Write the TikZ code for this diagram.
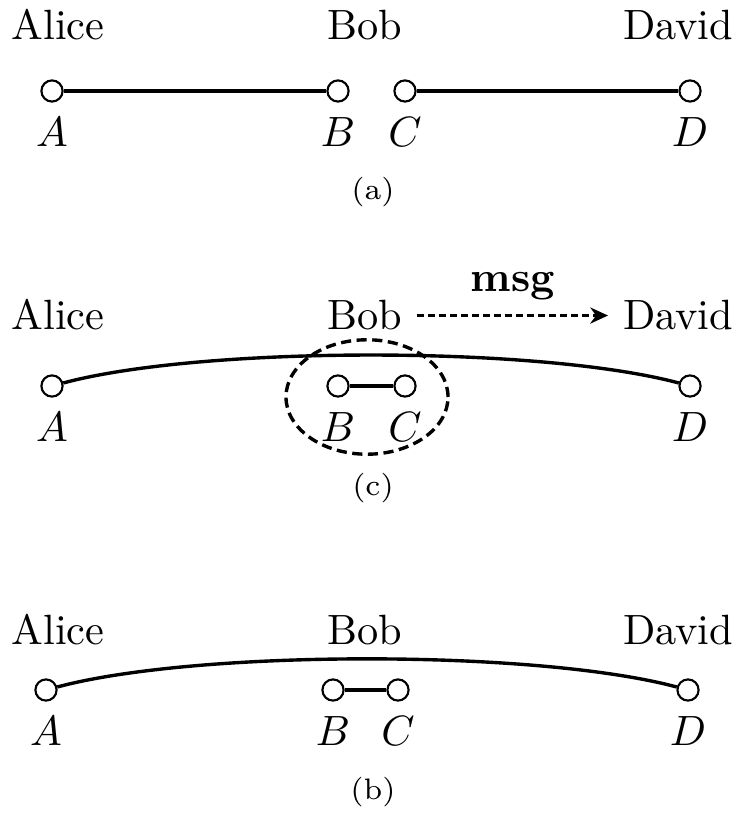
\documentclass[tikz,border=0pt]{standalone}
\usetikzlibrary{positioning, arrows.meta, shapes.geometric}

\begin{document}
\begin{tikzpicture}[
    x=0.0083cm, y=-0.0083cm,
    party/.style={
        circle,
        draw,
        line width=0.5pt,
        fill=white,
        minimum size=5pt,
        inner sep=0pt
    },
    who/.style={
        anchor=base
    },
    link/.style={
        thick
    },
    swaplink/.style={
        thick,
        bend left=15,
        looseness=0.6
    },
    msgarrow/.style={
        -{Stealth[length=4.2pt, width=3.8pt]},
        line width=0.9pt,
        dash pattern=on 1.6pt off 1pt
    },
    bobset/.style={
        ellipse,
        draw,
        thick,
        dash pattern=on 2.4pt off 1.3pt,
        minimum width=1.345cm,
        minimum height=0.95cm
    },
    caption/.style={
        anchor=base,
        font=\scriptsize
    }
]
    \useasboundingbox (0,0) rectangle (741,813);

    % (a) two separate links
    \node[who] (aAlice) at (58,40) {Alice};
    \node[who] (aBob) at (365,40) {Bob};
    \node[who] (aDavid) at (678,40) {David};

    \node[party, label=below:$A$] (aA) at (52,91) {};
    \node[party, label=below:$B$] (aB) at (338,91) {};
    \node[party, label=below:$C$] (aC) at (405,91) {};
    \node[party, label=below:$D$] (aD) at (690,91) {};

    \draw[link] (aA) -- (aB);
    \draw[link] (aC) -- (aD);

    \node[caption] (capA) at (373,200) {(a)};

    % (c) Bob swaps and sends msg to David
    \node[who] (cAlice) at (58,330) {Alice};
    \node[who] (cBob) at (365,330) {Bob};
    \node[who] (cDavid) at (678,330) {David};

    \node[party, label=below:$A$] (cA) at (52,386) {};
    \node[party, label=below:$B$] (cB) at (338,386) {};
    \node[party, label=below:$C$] (cC) at (405,386) {};
    \node[party, label=below:$D$] (cD) at (690,386) {};

    \node[bobset] (cSet) at (367,397) {};

    \draw[swaplink] (cA) to (cD);
    \draw[link] (cB) -- (cC);
    \draw[msgarrow] (cBob) -- node[midway, above] {\textbf{msg}} (cDavid);

    \node[caption] (capC) at (373,495) {(c)};

    % (b) after the swap
    \node[who] (bAlice) at (58,644) {Alice};
    \node[who] (bBob) at (365,644) {Bob};
    \node[who] (bDavid) at (678,644) {David};

    \node[party, label=below:$A$] (bA) at (46,690) {};
    \node[party, label=below:$B$] (bB) at (333,690) {};
    \node[party, label=below:$C$] (bC) at (398,690) {};
    \node[party, label=below:$D$] (bD) at (688,690) {};

    \draw[swaplink] (bA) to (bD);
    \draw[link] (bB) -- (bC);

    \node[caption] (capB) at (373,799) {(b)};

\end{tikzpicture}
\end{document}
